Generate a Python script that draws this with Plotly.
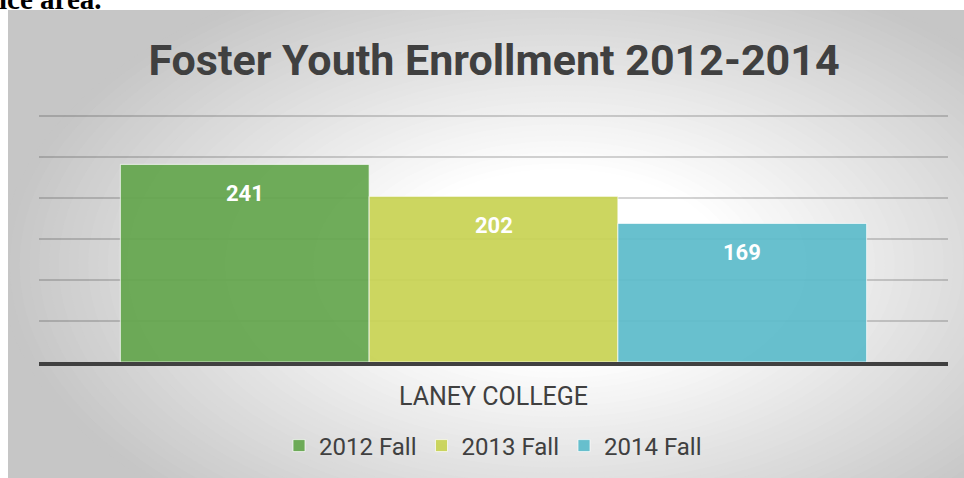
import plotly.graph_objects as go

# ---- data ----
categories = ["LANEY COLLEGE"]
series_names = ["2012 Fall", "2013 Fall", "2014 Fall"]
values_2012 = [241]
values_2013 = [202]
values_2014 = [169]
series_values = [values_2012, values_2013, values_2014]
title_text = "Foster Youth Enrollment 2012-2014"
doc_text = "ice area."

# ---- style ----
W, H = 964, 478
colors = ["rgba(100,166,78,0.93)", "rgba(200,211,84,0.93)", "rgba(92,187,202,0.93)"]
BARGAP = 0.179
TXT = "#404040"
YMAX = 310
PXU = 0.82  # pixels per unit

def px(x):
    return x / W

def py(y):
    return 1 - y / H

fig = go.Figure()
for name, vals, col in zip(series_names, series_values, colors):
    fig.add_trace(go.Bar(
        x=categories, y=vals, name=name,
        marker=dict(color=col, line=dict(color="rgba(255,255,255,0.7)", width=1)),
        hoverinfo="skip",
    ))

# value labels (positioned from the data through the axes)
w = (1 - BARGAP) / len(series_names)
annotations = []
for i, vals in enumerate(series_values):
    annotations.append(dict(
        x=(i - (len(series_names) - 1) / 2) * w, y=vals[0], xref="x", yref="y",
        text=str(vals[0]), showarrow=False, yanchor="middle", yshift=-29,
        font=dict(family="Roboto", size=22, color="white", weight="bold"),
    ))
annotations.append(dict(
    x=0, y=1, xref="paper", yref="paper", xanchor="left", yanchor="top",
    yshift=19, xshift=-3, text=doc_text, showarrow=False,
    font=dict(family="Liberation Serif", size=29, color="black", weight="bold"),
))

# background: radial-like gradient with concentric ellipses
shapes = []
x0, y0 = 8, 10
cx, cy = 560, 265
rx, ry = 560, 320
shapes.append(dict(type="rect", xref="paper", yref="paper", layer="below",
                   x0=px(x0), x1=1, y0=0, y1=py(y0),
                   fillcolor="rgb(198,198,198)", line=dict(width=0)))
N = 40
for k in range(N + 1):
    d = 1.0 - 0.7 * k / N
    g = int(round(255 - 57 * (d - 0.3) / 0.7))
    shapes.append(dict(
        type="circle", xref="paper", yref="paper", layer="below",
        x0=px(cx - rx * d), x1=px(cx + rx * d), y0=py(cy + ry * d), y1=py(cy - ry * d),
        fillcolor=f"rgb({g},{g},{g})", line=dict(width=0),
    ))
# white document margins (top and left)
shapes.append(dict(type="rect", xref="paper", yref="paper", layer="below",
                   x0=0, x1=1, y0=py(y0), y1=1.2, fillcolor="white", line=dict(width=0)))
shapes.append(dict(type="rect", xref="paper", yref="paper", layer="below",
                   x0=-0.2, x1=px(x0), y0=-0.2, y1=1.2, fillcolor="white", line=dict(width=0)))

fig.update_layout(
    width=W, height=H,
    margin=dict(l=0, r=0, t=0, b=0),
    paper_bgcolor="white", plot_bgcolor="rgba(0,0,0,0)",
    barmode="group", bargap=BARGAP, bargroupgap=0,
    title=dict(text=title_text, x=px(494), xanchor="center", y=py(60), yanchor="middle",
               font=dict(family="Roboto", size=43, color=TXT, weight="bold")),
    xaxis=dict(domain=[px(39), px(948)], showline=True, linecolor=TXT, linewidth=4,
               ticks="", tickfont=dict(family="Roboto", size=25, color=TXT),
               ticklabelstandoff=9, showgrid=False),
    yaxis=dict(domain=[py(362), py(362 - PXU * YMAX)], range=[0, YMAX], dtick=50,
               showticklabels=False, gridcolor="rgba(0,0,0,0.17)", gridwidth=1.5,
               zeroline=False, showline=False, ticks=""),
    legend=dict(orientation="h", x=px(493), xanchor="center", y=py(446), yanchor="middle",
                font=dict(family="Roboto", size=24, color=TXT), bgcolor="rgba(0,0,0,0)",
                itemwidth=30),
    annotations=annotations,
    shapes=shapes,
    showlegend=True,
)

fig.write_html("out.html", config={"displayModeBar": False},
               post_script="document.body.style.margin='0px';")
